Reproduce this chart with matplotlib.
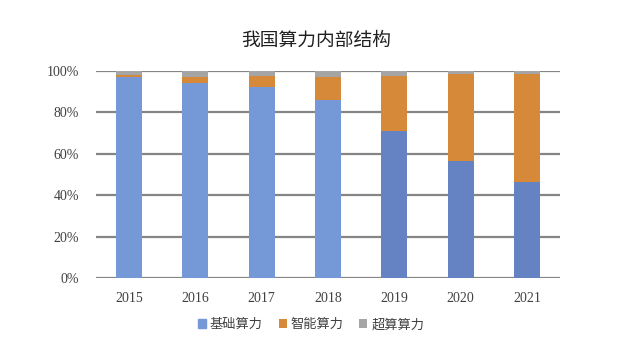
import numpy as np
import matplotlib.pyplot as plt
from matplotlib.ticker import PercentFormatter

years = ['2015', '2016', '2017', '2018', '2019', '2020', '2021']
base = [97.1, 94.2, 92.3, 86.1, 71.0, 56.5, 46.6]
smart = [0.9, 2.9, 5.4, 11.0, 26.7, 42.2, 52.1]
labels = ['基础算力', '智能算力', '超算算力']

super_ = [100 - b - s for b, s in zip(base, smart)]
base_colors = ['#7598d7'] * 4 + ['#6583c2'] * 3

plt.rcParams['font.family'] = ['Liberation Serif', 'Noto Sans CJK SC']

fig = plt.figure(figsize=(6.35, 3.53), dpi=100)
ax = fig.add_axes([0.151, 0.2125, 0.731, 0.5865])

x = np.arange(len(years))
w = 0.39
ax.bar(x, base, w, color=base_colors, label=labels[0], zorder=2)
ax.bar(x, smart, w, bottom=base, color='#d7893a', label=labels[1], zorder=2)
ax.bar(x, super_, w, bottom=np.array(base) + np.array(smart), color='#a5a5a5',
       label=labels[2], zorder=2)

ax.set_xlim(-0.5, len(years) - 0.5)
ax.set_ylim(0, 100)
ax.set_yticks(range(0, 101, 20))
ax.yaxis.set_major_formatter(PercentFormatter(decimals=0))
ax.set_xticks(x)
ax.set_xticklabels(years)
ax.grid(axis='y', color='#858585', linewidth=1.6, zorder=0)
for s in ax.spines.values():
    s.set_visible(False)
ax.tick_params(length=0, labelsize=10, colors='#404040', pad=10)
ax.tick_params(axis='y', pad=12)

fig.text(0.498, 0.885, '我国算力内部结构', ha='center', va='center', fontsize=13.5,
         family=['Noto Sans CJK SC'], color='#202020')

h, l = ax.get_legend_handles_labels()
h[0] = plt.Rectangle((0, 0), 1, 1, color='#7598d7')
leg = fig.legend(h, l, loc='center', bbox_to_anchor=(0.49, 0.08), ncol=3, frameon=False,
                 prop={'family': 'Noto Sans CJK SC', 'size': 9.5},
                 handlelength=0.6, handleheight=0.6, handletextpad=0.3, columnspacing=1.2)
for t in leg.get_texts():
    t.set_color('#404040')

fig.savefig('out.png', dpi=100)
